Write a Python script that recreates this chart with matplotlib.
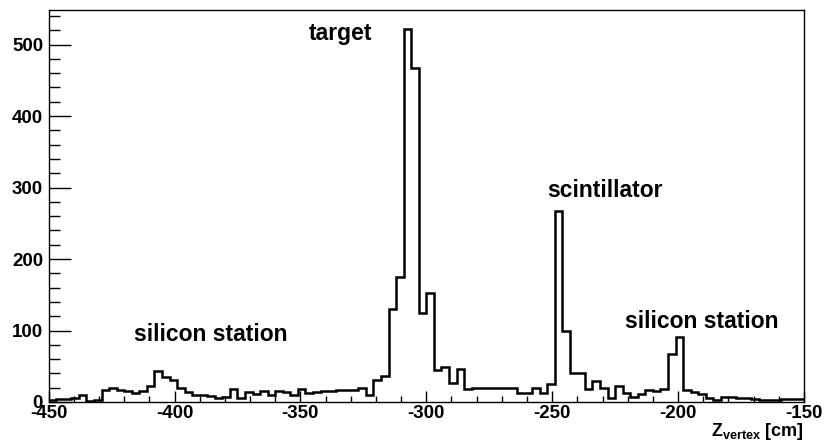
import numpy as np
import matplotlib
matplotlib.use("Agg")
import matplotlib.pyplot as plt
from matplotlib.ticker import MultipleLocator

plt.rcParams['font.family'] = ['Liberation Sans', 'DejaVu Sans']
plt.rcParams['mathtext.fontset'] = 'custom'
plt.rcParams['mathtext.rm'] = 'Liberation Sans'
plt.rcParams['mathtext.bf'] = 'Liberation Sans:bold'
plt.rcParams['axes.unicode_minus'] = False

# Histogram: 100 bins of 3 cm from -450 to -150
x_min, x_max, n_bins = -450, -150, 100
counts = [3, 4, 4, 5, 10, 2, 3, 17, 20, 17,
          15, 13, 15, 23, 44, 35, 31, 19, 14, 10,
          10, 8, 5, 7, 18, 5, 14, 11, 15, 10,
          16, 14, 10, 18, 13, 14, 15, 15, 17, 17,
          17, 19, 10, 31, 37, 130, 175, 522, 467, 125,
          153, 45, 49, 27, 46, 18, 20, 20, 20, 19,
          19, 20, 13, 12, 20, 13, 25, 267, 99, 41,
          41, 18, 30, 20, 5, 22, 13, 7, 11, 17,
          16, 18, 67, 91, 17, 14, 11, 6, 3, 7,
          7, 6, 5, 4, 3, 3, 3, 4, 4, 4]

labels = ["silicon station", "target", "scintillator", "silicon station"]
label_x = [-385.5, -334.0, -229.0, -190.5]
label_y = [95, 516, 296, 112]

edges = np.linspace(x_min, x_max, n_bins + 1)

fig = plt.figure(figsize=(8.25, 4.44), dpi=100)
ax = fig.add_axes([0.059, 0.0946, 0.9155, 0.884])

ax.stairs(counts, edges, baseline=None, color='black', linewidth=1.8)

ax.set_xlim(x_min, x_max)
ax.set_ylim(0, 549)

ax.xaxis.set_major_locator(MultipleLocator(50))
ax.xaxis.set_minor_locator(MultipleLocator(10))
ax.yaxis.set_major_locator(MultipleLocator(100))
ax.yaxis.set_minor_locator(MultipleLocator(20))

ax.tick_params(axis='x', which='major', direction='in', length=8, width=1.0,
               labelsize=13.5, pad=2, top=False)
ax.tick_params(axis='x', which='minor', direction='in', length=4, width=1.0, top=False)
ax.tick_params(axis='y', which='major', direction='in', length=16, width=1.0,
               labelsize=13.5, pad=4, right=False)
ax.tick_params(axis='y', which='minor', direction='in', length=8, width=1.0, right=False)

for lab in ax.get_xticklabels() + ax.get_yticklabels():
    lab.set_fontweight('bold')

for sp in ax.spines.values():
    sp.set_linewidth(1.0)

for t, xx, yy in zip(labels, label_x, label_y):
    ax.text(xx, yy, t, ha='center', va='center', fontsize=16.5, fontweight='bold')

fig.text(0.9745, 0.018, r'$\mathbf{Z_{vertex}}$ [cm]', ha='right', va='baseline',
         fontsize=13, fontweight='bold')

fig.savefig('out.png', dpi=100)
